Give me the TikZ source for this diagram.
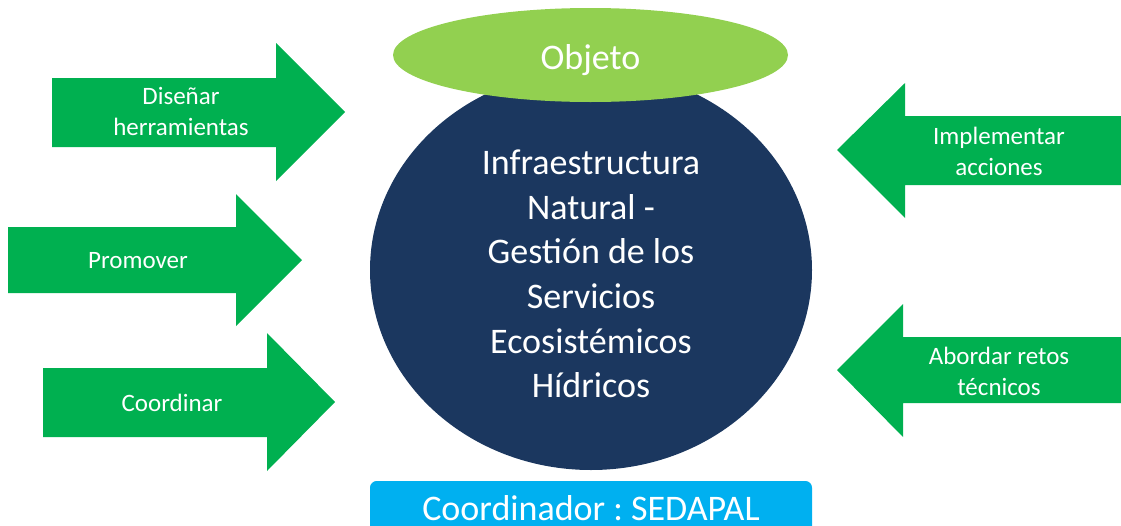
\documentclass[tikz,border=0pt]{standalone}
\usepackage{fontspec}
\setmainfont{Carlito}
\usetikzlibrary{shapes.geometric, positioning}
\definecolor{verde}{HTML}{00B050}
\definecolor{verdeclaro}{HTML}{92D050}
\definecolor{azulosc}{HTML}{1B375F}
\definecolor{celeste}{HTML}{00B0F0}
\tikzset{
    flecha/.style={fill=verde},
    rotulo/.style={text=white, align=center, font=\fontsize{18.75}{23.25}\selectfont},
    grande/.style={text=white, align=center, inner sep=0pt, font=\fontsize{27}{33.5}\selectfont},
}

\begin{document}
\begin{tikzpicture}[x=0.75pt, y=-0.75pt]
    \useasboundingbox (0,0) rectangle (1121,525);
    % flechas de la izquierda
    \fill[flecha] (52,78) -- (276,78) -- (276,43) -- (345,112) -- (276,181) -- (276,147) -- (52,147) -- cycle;
    \fill[flecha] (8,227) -- (236,227) -- (236,194) -- (302,260) -- (236,326) -- (236,293) -- (8,293) -- cycle;
    \fill[flecha] (43,368) -- (267,368) -- (267,333) -- (335,402) -- (267,471) -- (267,437) -- (43,437) -- cycle;
    \node[rotulo] (disenar) at (181,111) {Diseñar\\herramientas};
    \node[rotulo] (promover) at (138,261) {Promover};
    \node[rotulo] (coordinar) at (172,403) {Coordinar};
    % flechas de la derecha
    \fill[flecha] (1121,116) -- (905,116) -- (905,83) -- (837,150) -- (905,218) -- (905,185) -- (1121,185) -- cycle;
    \fill[flecha] (1121,337) -- (903,337) -- (903,304) -- (837,370) -- (903,437) -- (903,403) -- (1121,403) -- cycle;
    \node[rotulo] (implementar) at (999,151) {Implementar\\acciones};
    \node[rotulo] (abordar) at (999,371) {Abordar retos\\técnicos};
    % centro
    \node[ellipse, fill=azulosc, minimum width=331.5pt, minimum height=300pt] (infra) at (591,270) {};
    \node[grande] (infratexto) at ([yshift=-3pt]infra.center)
        {Infraestructura\\Natural -\\Gestión de los\\Servicios\\Ecosistémicos\\Hídricos};
    \node[ellipse, fill=verdeclaro, minimum width=296.25pt, minimum height=70.5pt] (objeto) at (590.5,55) {};
    \node[grande] (objetotexto) at ([yshift=-3.5pt]objeto.center) {Objeto};
    \node[grande, fill=celeste, rounded corners=5pt, minimum width=331.5pt, minimum height=40.5pt] (coord) at (591,508)
        {Coordinador :\ SEDAPAL};
\end{tikzpicture}
\end{document}
